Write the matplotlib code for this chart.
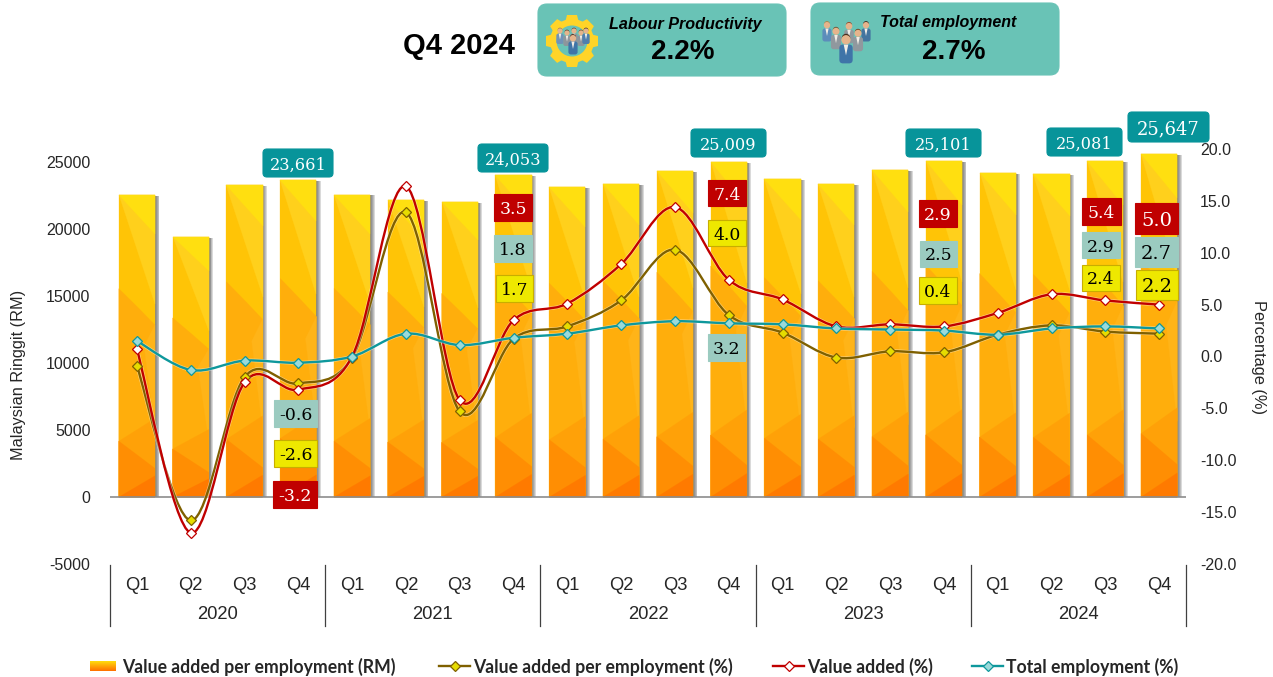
import numpy as np
import matplotlib
matplotlib.use("Agg")
import matplotlib.pyplot as plt
import matplotlib.patheffects as pe
from matplotlib.lines import Line2D
from matplotlib.patches import Circle, FancyBboxPatch, PathPatch, Polygon, Rectangle
from matplotlib.path import Path

plt.rcParams['font.family'] = ['Liberation Sans', 'DejaVu Sans']
plt.rcParams['axes.unicode_minus'] = False

# Data
years = ["2020", "2021", "2022", "2023", "2024"]
quarters = ["Q1", "Q2", "Q3", "Q4"] * 5
rm_values = [22560, 19400, 23300, 23661, 22600, 22200, 22050, 24053, 23150, 23400,
             24350, 25009, 23750, 23400, 24450, 25101, 24200, 24100, 25081, 25647]
va_per_emp = [-0.9, -15.8, -2.0, -2.6, -0.1, 13.9, -5.3, 1.7, 2.9, 5.4,
              10.3, 4.0, 2.3, -0.1, 0.5, 0.4, 2.1, 3.0, 2.4, 2.2]
va_total = [0.7, -17.0, -2.5, -3.2, 0.0, 16.4, -4.2, 3.5, 5.1, 8.9,
            14.4, 7.4, 5.5, 2.9, 3.1, 2.9, 4.2, 6.0, 5.4, 5.0]
employment = [1.5, -1.3, -0.4, -0.6, 0.0, 2.2, 1.1, 1.8, 2.2, 3.0,
              3.4, 3.2, 3.1, 2.7, 2.6, 2.5, 2.1, 2.7, 2.9, 2.7]
left_ticks = [-5000, 0, 5000, 10000, 15000, 20000, 25000]
right_ticks = [-20, -15, -10, -5, 0, 5, 10, 15, 20]

W, H = 1273, 677
RED, OLIVE, TEAL = "#C00000", "#7F6000", "#0E989C"
BOX_TEAL, BOX_PALE, BOX_YELLOW = "#07949A", "#9BCBC0", "#EEE800"
CARD = "#69C3B6"

# facets of the bar fill, in bar coordinates (0,0 top left, 1,1 bottom right)
facets = [
    ("#FFC406", [(0, 0), (1, 0), (1, 1), (0, 1)]),
    ("#FFD01C", [(0, 0), (1, 0), (1, .36)]),
    ("#FFDF10", [(0, 0), (1, 0), (1, .13)]),
    ("#FFAE0C", [(0, .31), (.55, .375), (1, .43), (1, 1), (0, 1)]),
    ("#FFB418", [(1, .43), (.7, .50), (1, .78)]),
    ("#FFA108", [(0, .815), (1, .74), (1, 1), (0, 1)]),
    ("#FF8E03", [(0, .815), (1, .905), (1, 1), (0, 1)]),
    ("#FF7A00", [(0, 1), (1, .93), (1, 1)]),
]


def smooth_path(xs, ys):
    # same kind of smoothing as a spreadsheet "smoothed line"
    pts = np.column_stack([xs, ys])
    verts = [pts[0]]
    codes = [Path.MOVETO]
    for i in range(len(pts) - 1):
        before = pts[max(i - 1, 0)]
        after = pts[min(i + 2, len(pts) - 1)]
        verts.append(pts[i] + (pts[i + 1] - before) / 6)
        verts.append(pts[i + 1] - (after - pts[i]) / 6)
        verts.append(pts[i + 1])
        codes += [Path.CURVE4] * 3
    return Path(verts, codes)


fig = plt.figure(figsize=(W / 100, H / 100), dpi=100)
ax = fig.add_axes([110 / W, (H - 564) / H, 1076 / W, 415 / H])
x = np.arange(len(rm_values))
bar_w = 0.67

# bars with soft shadow to the right
for k in range(1, 6):
    ax.bar(x + k * 0.017, np.array(rm_values) - 70, bar_w, color="#4A4A4A", alpha=0.2, lw=0, zorder=1)
for xi, h in zip(x, rm_values):
    for colour, poly in facets:
        corners = [(xi - bar_w / 2 + bar_w * u, h * (1 - v)) for u, v in poly]
        ax.add_patch(Polygon(corners, closed=True, fc=colour, ec=colour, lw=0.2, zorder=2))

ax.set_xlim(-0.5, 19.5)
ax.set_ylim(-5000, 26000)
ax.set_yticks(left_ticks)
ax.set_xticks(x)
ax.set_xticklabels(quarters)
ax.axhline(0, color="#8C8C8C", lw=1.2, zorder=3)
ax.tick_params(axis="y", length=0, pad=14, labelsize=11.5, labelcolor="#262626")
ax.tick_params(axis="x", length=0, pad=9.5, labelsize=13.2, labelcolor="#262626")
ax.set_ylabel("Malaysian Ringgit (RM)", fontsize=11.7, color="#262626")
ax.yaxis.set_label_coords((26 - 110) / 1076, (564 - 375) / 415)
for s in ax.spines.values():
    s.set_visible(False)
for i, yr in enumerate(years):
    ax.text(1.5 + 4 * i, -0.121, yr, transform=ax.get_xaxis_transform(), ha="center", va="center",
            fontsize=13.2, color="#262626")

ax2 = ax.twinx()
ax2.set_ylim(-20, 20)
ax2.set_yticks(right_ticks)
ax2.set_yticklabels([f"{t:.1f}" for t in right_ticks])
ax2.tick_params(axis="y", length=0, pad=10, labelsize=11.5, labelcolor="#262626")
ax2.set_ylabel("Percentage (%)", fontsize=11.8, color="#262626", rotation=270, va="center")
ax2.yaxis.set_label_coords((1258 - 110) / 1076, (564 - 357) / 415)
for s in ax2.spines.values():
    s.set_visible(False)

series = [(va_per_emp, OLIVE, "#E6DC00"), (va_total, RED, "white"), (employment, TEAL, "#9ADADA")]
for vals, colour, face in series:
    ax2.add_patch(PathPatch(smooth_path(x, vals), fc="none", ec=colour, lw=1.7, zorder=4,
                            path_effects=[pe.withStroke(linewidth=2.6, foreground="white", alpha=0.45)]))
    ax2.plot(x, vals, ls="none", marker="D", ms=4.6, mfc=face, mec=colour, mew=0.9, zorder=5)

# everything hand placed in the original goes on a pixel overlay
ov = fig.add_axes([0, 0, 1, 1], zorder=10)
ov.set_xlim(0, W)
ov.set_ylim(H, 0)
ov.axis("off")
ov.patch.set_alpha(0)


def box(x0, x1, y0, y1, face, edge=None, radius=0, z=6):
    style = f"round,pad=0,rounding_size={radius}" if radius else "square,pad=0"
    ov.add_patch(FancyBboxPatch((x0, y0), x1 - x0, y1 - y0, boxstyle=style, fc=face,
                                ec=edge if edge else face, lw=0.8, zorder=z))


def value_label(text, x0, x1, y0, y1, face, colour, size=12, edge=None, radius=0):
    box(x0, x1, y0, y1, face, edge, radius)
    ov.text((x0 + x1) / 2, (y0 + y1) / 2, text, ha="center", va="center_baseline", color=colour,
            fontsize=size, family="DejaVu Serif", zorder=7)


for idx, x0, x1, y0, y1, size in [(3, 263, 333, 149, 177, 11.6), (7, 478, 548, 144, 172, 11.6),
                                  (11, 691, 766, 129, 157, 11.6), (15, 906, 981, 129, 157, 11.6),
                                  (18, 1047, 1122, 128, 156, 11.6), (19, 1128, 1209, 112, 142, 13)]:
    value_label(f"{rm_values[idx]:,}", x0, x1, y0, y1, BOX_TEAL, "white", size, radius=4)

for idx, x0, x1, y0, y1, size in [(3, 273, 317, 481, 508, 12.4), (7, 494, 532, 194, 221, 12.4),
                                  (11, 708, 746, 180, 206, 12.4), (15, 919, 957, 200, 227, 12.4),
                                  (18, 1082, 1121, 198, 225, 12.4), (19, 1135, 1178, 203, 234, 14)]:
    value_label(f"{va_total[idx]:.1f}", x0, x1, y0, y1, RED, "white", size)

for idx, x0, x1, y0, y1, size in [(3, 274, 317, 400, 427, 12.4), (7, 494, 532, 235, 262, 12.4),
                                  (11, 708, 745, 334, 361, 12.4), (15, 920, 957, 241, 267, 12.4),
                                  (18, 1082, 1120, 232, 258, 12.4), (19, 1135, 1178, 237, 267, 14)]:
    value_label(f"{employment[idx]:.1f}", x0, x1, y0, y1, BOX_PALE, "black", size)

for idx, x0, x1, y0, y1, size in [(3, 274, 317, 440, 467, 12.4), (7, 496, 533, 275, 302, 12.4),
                                  (11, 708, 746, 220, 246, 12.4), (15, 919, 957, 277, 304, 12.4),
                                  (18, 1082, 1120, 265, 291, 12.4), (19, 1136, 1178, 270, 300, 14)]:
    value_label(f"{va_per_emp[idx]:.1f}", x0, x1, y0, y1, BOX_YELLOW, "black", size, edge="#C8AE00")

# year separators under the axis
for k in range(6):
    sx = 110 + 215.2 * k
    ov.plot([sx, sx], [565, 626], color="#404040", lw=0.9)

# header
ov.text(459, 46, "Q4 2024", ha="center", va="center", fontsize=21, fontweight="bold", color="black")
box(538, 786, 4, 76, CARD, radius=9, z=1)
box(811, 1059, 3, 75, CARD, radius=9, z=1)
ov.text(685, 25, "Labour Productivity", ha="center", va="center", fontsize=11.6, fontweight="bold",
        fontstyle="italic", color="black")
ov.text(683, 52, "2.2%", ha="center", va="center", fontsize=20, fontweight="bold", color="black")
ov.text(948, 22, "Total employment", ha="center", va="center", fontsize=11.5, fontweight="bold",
        fontstyle="italic", color="black")
ov.text(954, 52, "2.7%", ha="center", va="center", fontsize=20, fontweight="bold", color="black")


def person(cx, cy, s, suit, hair, z=3):
    ov.add_patch(FancyBboxPatch((cx - 4.6 * s, cy + 4.5 * s), 9.2 * s, 13 * s, boxstyle=f"round,pad=0,rounding_size={2.5 * s}",
                                fc=suit, ec="none", zorder=z))
    ov.add_patch(Polygon([(cx - 1.6 * s, cy + 4.5 * s), (cx + 1.6 * s, cy + 4.5 * s), (cx, cy + 12 * s)],
                         fc="#F2EDE6", ec="none", zorder=z))
    ov.add_patch(Circle((cx, cy + 1.2 * s), 3.2 * s, fc="#E6B48C", ec="none", zorder=z))
    ov.add_patch(Circle((cx, cy), 2.9 * s, fc=hair, ec="none", zorder=z - 0.1))


# gear icon
teeth = 8
for t in np.arange(teeth) * 2 * np.pi / teeth:
    c, sn = np.cos(t), np.sin(t)
    ov.add_patch(Polygon([(572 + 26 * c - 5 * sn, 41 + 26 * sn + 5 * c), (572 + 26 * c + 5 * sn, 41 + 26 * sn - 5 * c),
                          (572 + 18 * c + 7 * sn, 41 + 18 * sn - 7 * c), (572 + 18 * c - 7 * sn, 41 + 18 * sn + 7 * c)],
                         fc="#FFD428", ec="none", zorder=2))
ov.add_patch(Circle((572, 41), 22, fc="#FFD428", ec="none", zorder=2))
ov.add_patch(Circle((572, 41), 15.5, fc=CARD, ec="none", zorder=2.1))
for px, py, suit, hair in [(560, 30, "#6F93B8", "#9B7B4A"), (567, 32, "#8D959C", "#5A3B22"),
                           (574, 30, "#8D959C", "#6E3A25"), (581, 32, "#8D959C", "#6E4A2A"),
                           (586, 30, "#4F7FAE", "#3B2A1E")]:
    person(px, py, 0.8, suit, hair, z=3)
person(573, 37, 1.0, "#3F74A8", "#4A2E1C", z=4)

# people icon
for px, py, suit, hair, s in [(827, 24, "#5C8DBB", "#A8864A", 1.0), (866, 24, "#44749F", "#3B2A1E", 1.0),
                              (836, 30, "#90989E", "#6E5A3A", 1.1), (849, 25, "#90989E", "#8C4A2C", 1.05),
                              (858, 32, "#90989E", "#6E4A2A", 1.1)]:
    person(px, py, s, suit, hair, z=3)
person(846, 38, 1.45, "#3F74A8", "#4A2E1C", z=4)

# legend
n = 30
for j in range(n):
    shade = matplotlib.colors.to_hex(np.array([1, 0.86 - 0.42 * j / (n - 1), 0.05 - 0.05 * j / (n - 1)]))
    ov.add_patch(Rectangle((90, 661 + j * 10 / n), 26, 10 / n + 0.1, fc=shade, ec="none", zorder=3))

legend_items = [(122, None, None, None, "Value added per employment (RM)"),
                (473, 439, OLIVE, "#E6DC00", "Value added per employment (%)"),
                (807, 773, RED, "white", "Value added (%)"),
                (1006, 972, TEAL, "#9ADADA", "Total employment (%)")]
for tx, lx, colour, face, label in legend_items:
    if lx is not None:
        ov.add_line(Line2D([lx, lx + 31], [666, 666], color=colour, lw=1.7))
        ov.add_line(Line2D([lx + 15.5], [666], ls="none", marker="D", ms=4.6, mfc=face, mec=colour, mew=0.9))
    ov.text(tx, 666.5, label, ha="left", va="center", fontsize=12.7, fontweight="bold", family="Lato",
            color="#262626")

fig.savefig("out.png", dpi=100)
